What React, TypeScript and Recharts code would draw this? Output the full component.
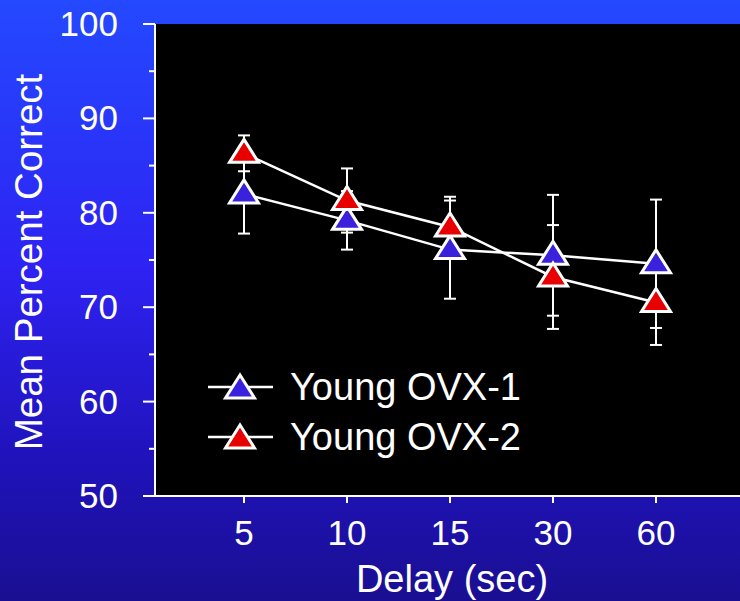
import { CartesianGrid, ErrorBar, Legend, Line, LineChart, XAxis, YAxis } from "recharts";

const delays = ["5", "10", "15", "30", "60"];
const ovx1Mean = [82.0, 79.2, 76.1, 75.5, 74.6];
const ovx1Sem = [4.2, 3.1, 5.2, 6.4, 6.8];
const ovx2Mean = [86.3, 81.3, 78.5, 73.2, 70.5];
const ovx2Sem = [1.9, 3.4, 3.2, 5.5, 4.5];
const yTicks = [50, 55, 60, 65, 70, 75, 80, 85, 90, 95, 100];

const series = [
  { key: "ovx1", name: "Young OVX-1", color: "#3a22dd" },
  { key: "ovx2", name: "Young OVX-2", color: "#e80000" },
];

const data = delays.map((d, i) => ({
  delay: d,
  ovx1: ovx1Mean[i],
  ovx1Err: ovx1Sem[i],
  ovx2: ovx2Mean[i],
  ovx2Err: ovx2Sem[i],
}));

const FONT = '"Liberation Sans", Arial, Helvetica, sans-serif';

function Tri({ cx, cy, fill }: { cx: number; cy: number; fill: string }) {
  const pts = `${cx},${cy - 14} ${cx - 14.5},${cy + 9} ${cx + 14.5},${cy + 9}`;
  return <polygon points={pts} fill={fill} stroke="#fff" strokeWidth={3} strokeLinejoin="miter" />;
}

function YTick({ x, y, payload }: any) {
  const major = payload.value % 10 === 0;
  return (
    <g>
      <line x1={x - (major ? 12 : 6)} x2={x} y1={y} y2={y} stroke="#fff" strokeWidth={2} />
      {major ? (
        <text x={x - 37} y={y} dy={12} textAnchor="end" fill="#fff" fontSize={35} fontFamily={FONT}>
          {payload.value}
        </text>
      ) : null}
    </g>
  );
}

function XTick({ x, y, payload }: any) {
  return (
    <g>
      <line x1={x} x2={x} y1={y} y2={y + 7} stroke="#fff" strokeWidth={2} />
      <text x={x} y={y + 49} textAnchor="middle" fill="#fff" fontSize={35} fontFamily={FONT}>
        {payload.value}
      </text>
    </g>
  );
}

function LegendBox() {
  return (
    <div style={{ fontFamily: FONT, color: "#fff" }}>
      {series.map((s) => (
        <div key={s.key} style={{ display: "flex", alignItems: "center", height: 50 }}>
          <svg width={82} height={50} style={{ display: "block" }}>
            <line x1={0} x2={65} y1={25} y2={25} stroke="#fff" strokeWidth={2.5} />
            <Tri cx={32} cy={27} fill={s.color} />
          </svg>
          <span style={{ fontSize: 38, lineHeight: "50px" }}>{s.name}</span>
        </div>
      ))}
    </div>
  );
}

export default function App() {
  return (
    <div
      style={{
        position: "absolute",
        left: 0,
        top: 0,
        width: 740,
        height: 601,
        background: "linear-gradient(to bottom, #2449ff 0%, #2e22f2 45%, #1f12b8 78%, #1a0f92 100%)",
      }}
    >
      <LineChart width={740} height={601} data={data} margin={{ top: 24, right: 0, bottom: 45, left: 0 }}>
        <CartesianGrid fill="#000" horizontal={false} vertical={false} />
        <XAxis
          dataKey="delay"
          padding={{ left: 89, right: 84 }}
          height={60}
          tickSize={0}
          tickMargin={0}
          tickLine={false}
          axisLine={{ stroke: "#fff", strokeWidth: 2 }}
          tick={<XTick />}
          interval={0}
          label={{
            content: () => (
              <text x={452} y={592} textAnchor="middle" fill="#fff" fontSize={38} fontFamily={FONT}>
                Delay (sec)
              </text>
            ),
          }}
        />
        <YAxis
          domain={[50, 100]}
          ticks={yTicks}
          width={155}
          tickSize={0}
          tickMargin={0}
          tickLine={false}
          axisLine={{ stroke: "#fff", strokeWidth: 2 }}
          tick={<YTick />}
          interval={0}
          label={{
            content: () => (
              <text
                x={28}
                y={262}
                transform="rotate(-90 28 262)"
                textAnchor="middle"
                dominantBaseline="central"
                fill="#fff"
                fontSize={38.5}
                fontFamily={FONT}
              >
                Mean Percent Correct
              </text>
            ),
          }}
        />
        <Legend
          layout="vertical"
          align="center"
          verticalAlign="middle"
          wrapperStyle={{ left: 208, top: 362, width: 420 }}
          content={() => <LegendBox />}
        />
        {series.map((s) => (
          <Line
            key={`${s.key}-err`}
            dataKey={s.key}
            stroke="none"
            dot={false}
            activeDot={false}
            legendType="none"
            isAnimationActive={false}
          >
            <ErrorBar dataKey={`${s.key}Err`} width={6} stroke="#fff" strokeWidth={2} direction="y" />
          </Line>
        ))}
        {series.map((s) => (
          <Line
            key={s.key}
            dataKey={s.key}
            name={s.name}
            stroke="#fff"
            strokeWidth={2.5}
            activeDot={false}
            isAnimationActive={false}
            dot={(p: any) => <Tri key={`${s.key}-${p.index}`} cx={p.cx} cy={p.cy} fill={s.color} />}
          />
        ))}
      </LineChart>
    </div>
  );
}
